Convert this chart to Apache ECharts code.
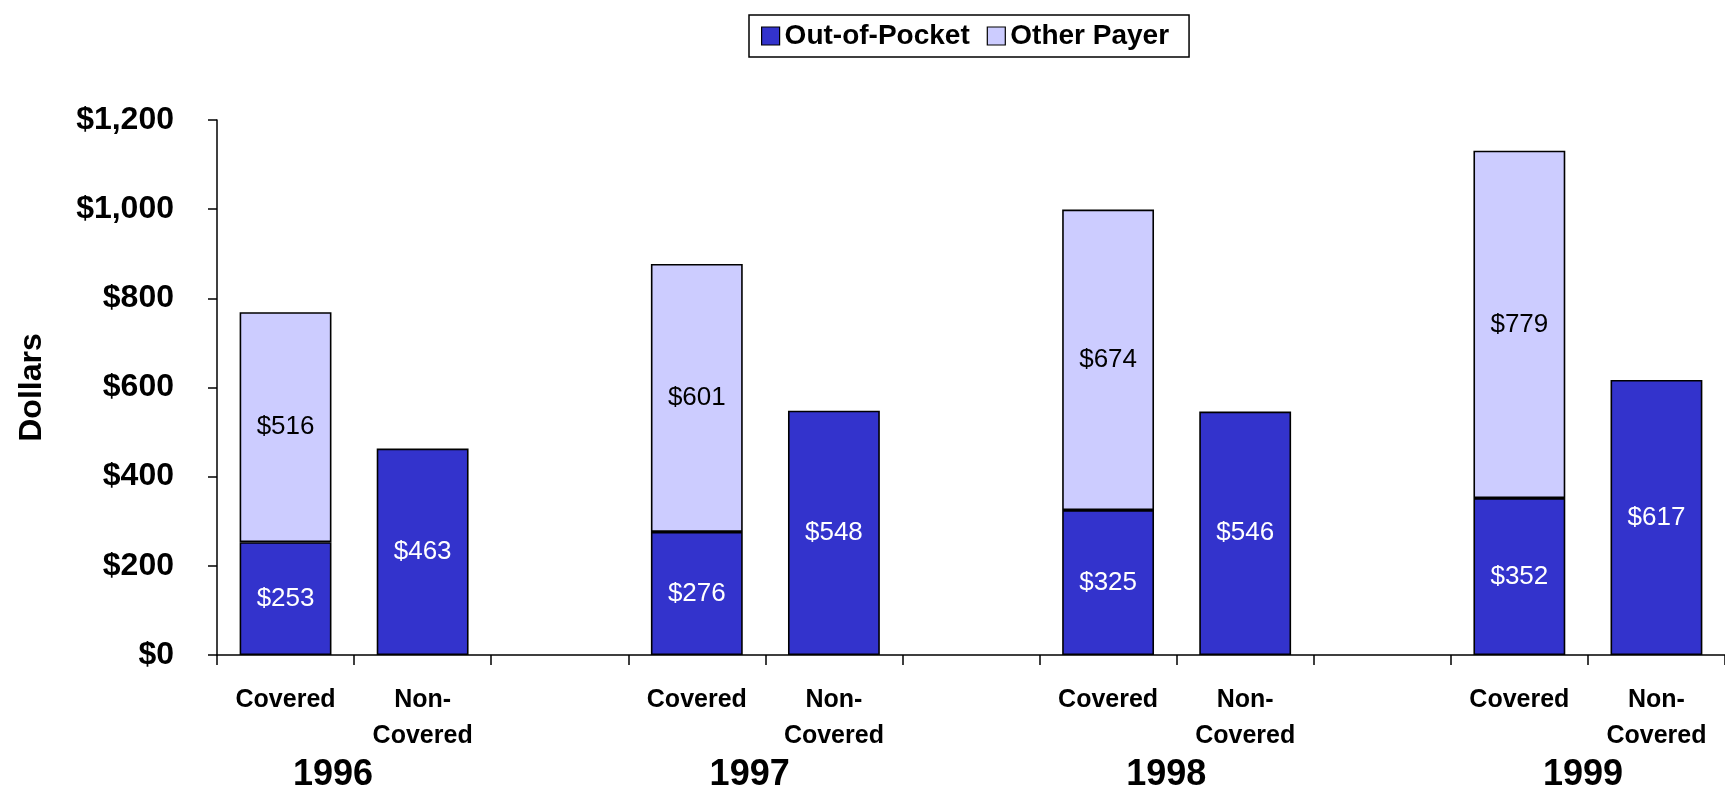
<!DOCTYPE html>
<html>
<head>
<meta charset="utf-8">
<title>Out-of-Pocket vs Other Payer</title>
<script src="https://cdn.jsdelivr.net/npm/echarts@6/dist/echarts.min.js"></script>
<style>
  html, body { margin: 0; padding: 0; background: #ffffff; }
  #chart { width: 1725px; height: 793px; }
</style>
</head>
<body>
<div id="chart"></div>
<script>
// Category slots: two bars per year plus an empty spacer slot between years
const categories = [
  'cov-1996', 'non-1996', 'gap-1996',
  'cov-1997', 'non-1997', 'gap-1997',
  'cov-1998', 'non-1998', 'gap-1998',
  'cov-1999', 'non-1999'
];
const categoryLabels = [
  'Covered', 'Non-\nCovered', '',
  'Covered', 'Non-\nCovered', '',
  'Covered', 'Non-\nCovered', '',
  'Covered', 'Non-\nCovered'
];
const years = ['1996', '1997', '1998', '1999'];

// Dollars per slot (null = no bar)
const outOfPocket = [253, 463, null, 276, 548, null, 325, 546, null, 352, 617];
const otherPayer  = [516, null, null, 601, null, null, 674, null, null, 779, null];

const yTicks = { min: 0, max: 1200, interval: 200 };

const FONT = "'Liberation Sans', Arial, Helvetica, sans-serif";
const DARK = '#3333CC';
const LIGHT = '#CCCCFF';

const chart = echarts.init(document.getElementById('chart'), null, { renderer: 'canvas' });

const money = v => '$' + Number(v).toLocaleString('en-US');

chart.setOption({
  backgroundColor: '#ffffff',
  animation: false,
  textStyle: { fontFamily: FONT },
  legend: {
    left: 749,
    top: 15,
    orient: 'horizontal',
    padding: [6, 20, 6, 12],
    itemGap: 17,
    itemWidth: 18,
    itemHeight: 18,
    borderColor: '#000000',
    borderWidth: 1.5,
    backgroundColor: '#ffffff',
    icon: 'rect',
    itemStyle: { borderColor: '#000000', borderWidth: 1.2 },
    textStyle: { fontFamily: FONT, fontSize: 28, fontWeight: 'bold', color: '#000000', lineHeight: 30 },
    data: ['Out-of-Pocket', 'Other Payer']
  },
  grid: [
    { left: 217, top: 120, width: 1511, height: 535, containLabel: false },
    // year captions sit on their own axis, first and last label at the ends
    { left: 333, top: 120, width: 1250, height: 535, containLabel: false }
  ],
  xAxis: [
    {
      type: 'category',
      gridIndex: 0,
      data: categories,
      boundaryGap: true,
      axisLine: { show: true, lineStyle: { color: '#000000', width: 1.5 } },
      axisTick: { show: true, inside: false, length: 10, interval: 0, lineStyle: { color: '#000000', width: 1.5 } },
      axisLabel: {
        interval: 0,
        margin: 27,
        fontFamily: FONT,
        fontSize: 25,
        fontWeight: 'bold',
        color: '#000000',
        lineHeight: 36,
        formatter: (v, i) => categoryLabels[i]
      },
      splitLine: { show: false }
    },
    {
      type: 'category',
      gridIndex: 1,
      data: years,
      boundaryGap: false,
      axisLine: { show: false },
      axisTick: { show: false },
      axisLabel: {
        interval: 0,
        margin: 106,
        fontFamily: FONT,
        fontSize: 36,
        fontWeight: 'bold',
        color: '#000000',
        lineHeight: 36
      },
      splitLine: { show: false }
    }
  ],
  yAxis: [
    {
      type: 'value',
      gridIndex: 0,
      min: yTicks.min,
      max: yTicks.max,
      interval: yTicks.interval,
      name: 'Dollars',
      nameLocation: 'middle',
      nameRotate: 90,
      nameGap: 169,
      nameTextStyle: { fontFamily: FONT, fontSize: 32, fontWeight: 'bold', color: '#000000' },
      axisLine: { show: true, lineStyle: { color: '#000000', width: 1.5 } },
      axisTick: { show: true, inside: false, length: 9, lineStyle: { color: '#000000', width: 1.5 } },
      axisLabel: {
        margin: 43,
        fontFamily: FONT,
        fontSize: 32,
        fontWeight: 'bold',
        color: '#000000',
        formatter: money
      },
      splitLine: { show: false }
    },
    { type: 'value', gridIndex: 1, show: false, min: 0, max: 1200 }
  ],
  series: [
    {
      name: 'Out-of-Pocket',
      type: 'bar',
      stack: 'total',
      xAxisIndex: 0,
      yAxisIndex: 0,
      barWidth: '67%',
      data: outOfPocket,
      itemStyle: { color: DARK, borderColor: '#000000', borderWidth: 1.6 },
      label: {
        show: true,
        position: 'inside',
        fontFamily: FONT,
        fontSize: 26,
        color: '#ffffff',
        formatter: p => money(p.value)
      }
    },
    {
      name: 'Other Payer',
      type: 'bar',
      stack: 'total',
      xAxisIndex: 0,
      yAxisIndex: 0,
      barWidth: '67%',
      data: otherPayer,
      itemStyle: { color: LIGHT, borderColor: '#000000', borderWidth: 1.6 },
      label: {
        show: true,
        position: 'inside',
        fontFamily: FONT,
        fontSize: 26,
        color: '#000000',
        formatter: p => money(p.value)
      }
    }
  ]
});
</script>
</body>
</html>
